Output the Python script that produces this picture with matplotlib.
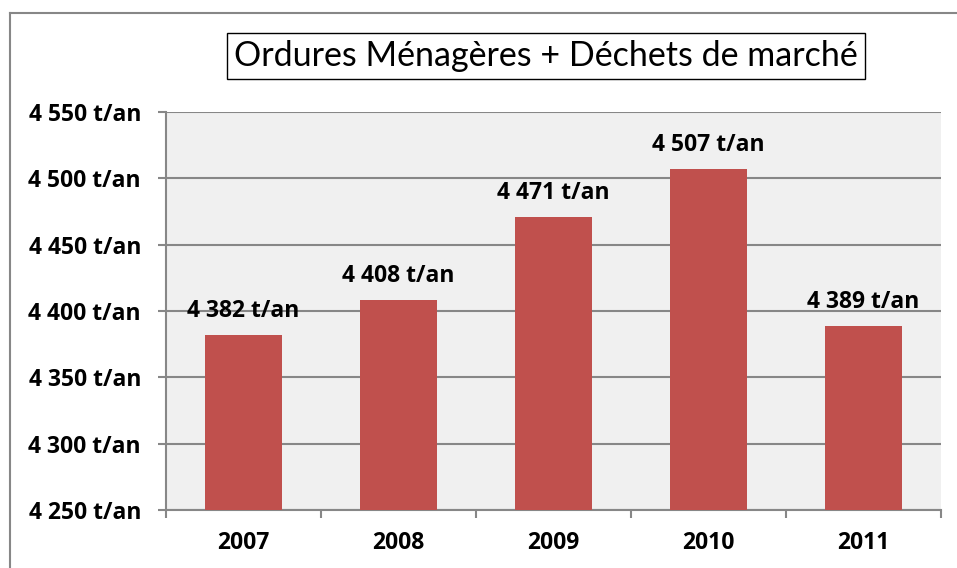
import matplotlib.pyplot as plt
from matplotlib.ticker import FixedLocator

years = ["2007", "2008", "2009", "2010", "2011"]
tonnes = [4382, 4408, 4471, 4507, 4389]
y_ticks = [4250, 4300, 4350, 4400, 4450, 4500, 4550]

plt.rcParams['font.family'] = ['Lato', 'DejaVu Sans']
BOLD = ['Open Sans', 'DejaVu Sans']
FS = 16.5


def fmt(v):
    return f"{v:,}".replace(",", " ") + " t/an"


fig = plt.figure(figsize=(9.57, 5.68), dpi=100)
ax = fig.add_axes([0.1735, 0.102, 0.8095, 0.701])

# cadre extérieur du graphique (haut + gauche)
fig.add_artist(plt.Line2D([10 / 957, 10 / 957], [0, 1 - 13 / 568], transform=fig.transFigure,
                          color="#878787", lw=1.5))
fig.add_artist(plt.Line2D([10 / 957, 1], [1 - 13 / 568, 1 - 13 / 568], transform=fig.transFigure,
                          color="#878787", lw=1.5))

x = range(len(years))
ax.set_facecolor("#F0F0F0")
ax.bar(x, [t - 4250 for t in tonnes], bottom=4250, width=0.5, color="#C0504D", zorder=3)
for xi, t in zip(x, tonnes):
    ax.text(xi, t + 9, fmt(t), ha="center", va="bottom", fontsize=FS, fontweight="bold",
            family=BOLD, zorder=4)

ax.set_xlim(-0.5, len(years) - 0.5)
ax.set_ylim(4250, 4550)
ax.set_yticks(y_ticks)
ax.set_yticklabels([fmt(v) for v in y_ticks], fontsize=FS, fontweight="bold", family=BOLD)
ax.set_xticks(list(x))
ax.set_xticklabels(years, fontsize=FS, fontweight="bold", family=BOLD)
ax.tick_params(axis="x", length=0, pad=15)
ax.xaxis.set_minor_locator(FixedLocator([i - 0.5 for i in range(len(years) + 1)]))
ax.tick_params(axis="x", which="minor", length=6, color="#878787", width=1.5)
ax.tick_params(axis="y", length=6, color="#878787", width=1.5, pad=12)
ax.grid(axis="y", color="#878787", lw=1.5, zorder=1)

for s in ["top", "right"]:
    ax.spines[s].set_visible(False)
for s in ["left", "bottom"]:
    ax.spines[s].set_color("#878787")
    ax.spines[s].set_linewidth(1.5)

fig.text(546 / 957, 1 - 56 / 568, "Ordures Ménagères + Déchets de marché", ha="center", va="center",
         fontsize=24.5,
         bbox=dict(boxstyle="square,pad=0.2", facecolor="white", edgecolor="black", lw=1))

fig.savefig("out.png", dpi=100)
